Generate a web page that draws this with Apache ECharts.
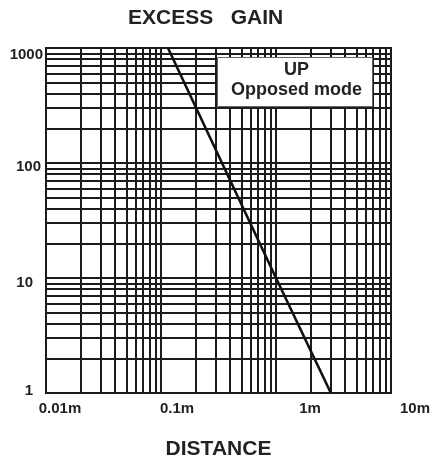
<!DOCTYPE html>
<html>
<head>
<meta charset="utf-8">
<script src="https://cdn.jsdelivr.net/npm/echarts@6/dist/echarts.min.js"></script>
<style>
html,body{margin:0;padding:0;background:#fff;}
#chart{width:430px;height:465px;}
</style>
</head>
<body>
<div id="chart"></div>
<script>
// ---- data ----
const distance = [0.115, 1.0, 3.0];      // metres
const gain = [1000, 10, 1];              // excess gain
const xTickLabels = ['0.01m', '0.1m', '1m', '10m'];
const yTickLabels = ['1', '10', '100', '1000'];
const xDecades = [0.01, 0.1, 1];
const yDecades = [1, 10, 100];
const minorMultipliers = [2, 3, 4, 5, 6, 7, 8, 9];
const chartTitle = 'EXCESS   GAIN';
const xTitle = 'DISTANCE';
const legendLines = ['UP', 'Opposed mode'];

// ---- build ----
const ink = '#1c1c1c';
const seriesData = distance.map((d, i) => [d, gain[i]]);
const minorX = [];
xDecades.forEach(d => minorMultipliers.forEach(m => minorX.push({ xAxis: +(d * m).toPrecision(6) })));
const minorY = [];
yDecades.forEach(d => minorMultipliers.forEach(m => minorY.push({ yAxis: +(d * m).toPrecision(6) })));

const font = 'Liberation Sans, Arial, sans-serif';
const chart = echarts.init(document.getElementById('chart'), null, { renderer: 'canvas' });
chart.setOption({
  animation: false,
  backgroundColor: '#fff',
  grid: {
    left: 46, right: 39, top: 48, bottom: 72,
    show: true, borderColor: ink, borderWidth: 2,
    outerBoundsMode: 'none', containLabel: false
  },
  xAxis: {
    type: 'log', logBase: 10, min: 0.01, max: 10,
    name: xTitle, nameLocation: 'middle', nameGap: 56,
    nameTextStyle: { fontFamily: font, fontWeight: 'bold', fontSize: 21, color: '#222', verticalAlign: 'middle' },
    axisLine: { show: true, lineStyle: { color: ink, width: 2 } },
    axisTick: { show: false },
    splitLine: { show: true, lineStyle: { color: ink, width: 2 } },
    axisLabel: {
      margin: 8, showMinLabel: true, showMaxLabel: true,
      fontFamily: font, fontWeight: 'bold', fontSize: 15, color: '#222',
      formatter: v => { const i = Math.round(Math.log10(v)) + 2; return '{x' + i + '|' + xTickLabels[i] + '}'; },
      rich: {
        x0: { fontFamily: font, fontWeight: 'bold', fontSize: 15, color: '#222', padding: [0, 0, 0, 28] },
        x1: { fontFamily: font, fontWeight: 'bold', fontSize: 15, color: '#222', padding: [0, 0, 0, 32] },
        x2: { fontFamily: font, fontWeight: 'bold', fontSize: 15, color: '#222', padding: [0, 0, 0, 68] },
        x3: { fontFamily: font, fontWeight: 'bold', fontSize: 15, color: '#222', padding: [0, 0, 0, 48] }
      }
    }
  },
  yAxis: {
    type: 'log', logBase: 10, min: 1, max: 1000,
    axisLine: { show: true, lineStyle: { color: ink, width: 2 } },
    axisTick: { show: false },
    splitLine: { show: true, lineStyle: { color: ink, width: 2 } },
    axisLabel: {
      margin: 3, showMinLabel: true, showMaxLabel: true,
      fontFamily: font, fontWeight: 'bold', fontSize: 15, color: '#222',
      formatter: v => { const i = Math.round(Math.log10(v)); return '{y' + i + '|' + yTickLabels[i] + '}'; },
      rich: {
        y0: { fontFamily: font, fontWeight: 'bold', fontSize: 15, color: '#222', padding: [0, 10, 4, 0] },
        y1: { fontFamily: font, fontWeight: 'bold', fontSize: 15, color: '#222', padding: [9, 10, 0, 0] },
        y2: { fontFamily: font, fontWeight: 'bold', fontSize: 15, color: '#222', padding: [8, 2, 0, 0] },
        y3: { fontFamily: font, fontWeight: 'bold', fontSize: 15, color: '#222', padding: [14, 0, 0, 0] }
      }
    }
  },
  series: [
    {
      name: 'grid-x', type: 'line', data: [], silent: true,
      markLine: { silent: true, symbol: ['none', 'none'], label: { show: false },
        lineStyle: { type: 'solid', color: ink, width: 2 }, emphasis: { disabled: true }, data: minorX }
    },
    {
      name: 'grid-y', type: 'line', data: [], silent: true,
      markLine: { silent: true, symbol: ['none', 'none'], label: { show: false },
        lineStyle: { type: 'solid', color: ink, width: 2 }, emphasis: { disabled: true }, data: minorY }
    },
    {
      name: 'Excess gain', type: 'line', data: seriesData, showSymbol: false, z: 5,
      lineStyle: { color: '#111', width: 2.6 }
    }
  ],
  graphic: [
    {
      type: 'text', left: 128, top: 8, z: 100,
      style: { text: chartTitle, fontFamily: font, fontWeight: 'bold', fontSize: 21, fill: '#222' }
    },
    {
      type: 'group', left: 217, top: 57, z: 100,
      children: [
        { type: 'rect', z: 100, shape: { x: 0, y: 0, width: 155, height: 49 },
          style: { fill: '#fff', stroke: '#666', lineWidth: 1 } },
        { type: 'text', z: 101, x: 79, y: 13, style: { text: legendLines[0], align: 'center', verticalAlign: 'middle',
          fontFamily: font, fontWeight: 'bold', fontSize: 18, fill: '#222' } },
        { type: 'text', z: 101, x: 79, y: 33, style: { text: legendLines[1], align: 'center', verticalAlign: 'middle',
          fontFamily: font, fontWeight: 'bold', fontSize: 18, fill: '#222' } }
      ]
    }
  ]
});
</script>
</body>
</html>
